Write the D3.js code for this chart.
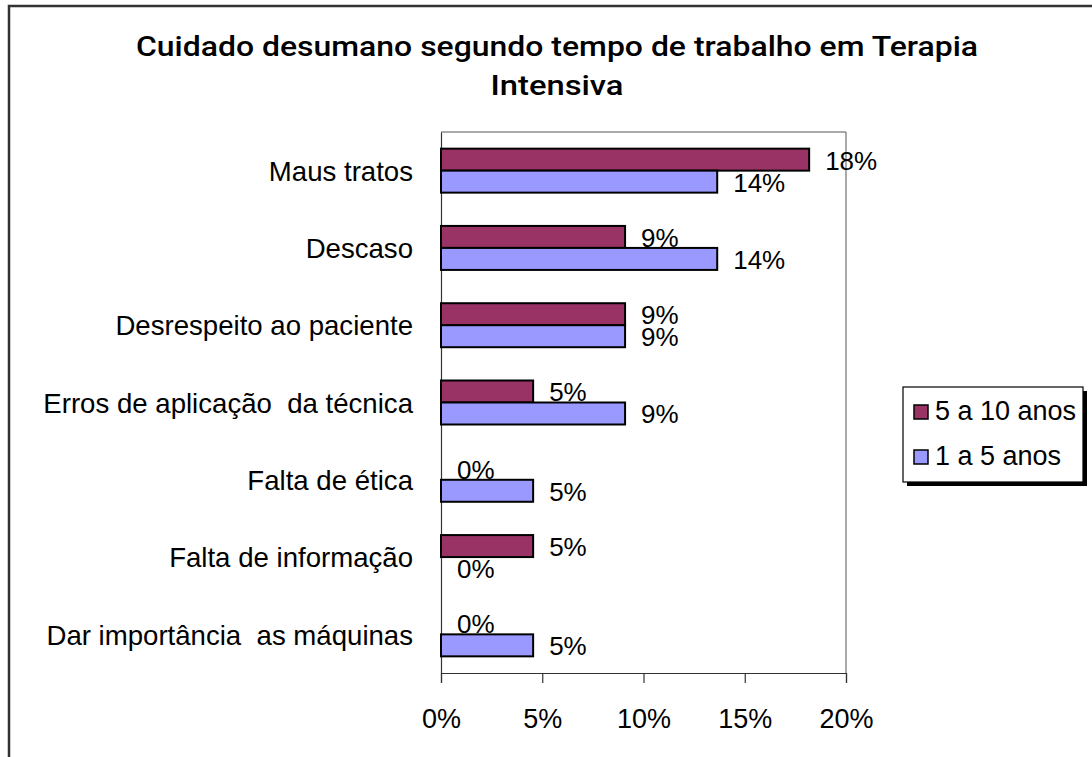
<!DOCTYPE html>
<html>
<head>
<meta charset="utf-8">
<script src="https://cdn.jsdelivr.net/npm/d3@7"></script>
<style>
  html, body { margin: 0; padding: 0; background: #fff; }
  svg { display: block; }
  text { font-family: "Liberation Sans", Arial, sans-serif; fill: #000; white-space: pre; }
</style>
</head>
<body>
<svg id="chart" width="1092" height="757"></svg>
<script>
// ---- data ----
const titleLines = ["Cuidado desumano segundo tempo de trabalho em Terapia", "Intensiva"];
const categories = [
  "Maus tratos",
  "Descaso",
  "Desrespeito ao paciente",
  "Erros de aplicação  da técnica",
  "Falta de ética",
  "Falta de informação",
  "Dar importância  as máquinas"
];
const seriesNames = ["5 a 10 anos", "1 a 5 anos"];
const values5a10 = [18.18, 9.09, 9.09, 4.55, 0, 4.55, 0];
const values1a5 = [13.64, 13.64, 9.09, 9.09, 4.55, 0, 4.55];
const xTicks = [0, 5, 10, 15, 20];
const seriesColors = ["#993366", "#9999FF"];

// ---- layout ----
const svg = d3.select("#chart");
const plot = { left: 441, right: 846, top: 132, bottom: 673 };

// outer frame (extends past the window on right/bottom)
svg.append("path")
  .attr("d", "M9,760 L9,6 L1100,6")
  .attr("fill", "none")
  .attr("stroke", "#333")
  .attr("stroke-width", 2.5);

// title
const titleWidths = [842, 133];
titleLines.forEach((t, i) => {
  svg.append("text")
    .attr("x", 557)
    .attr("y", 56 + i * 39)
    .attr("text-anchor", "middle")
    .attr("textLength", titleWidths[i])
    .attr("lengthAdjust", "spacingAndGlyphs")
    .style("font-family", "Roboto, 'Liberation Sans', Arial, sans-serif")
    .style("font-size", "27px")
    .style("font-weight", 500)
    .text(t);
});

const x = d3.scaleLinear().domain([0, 20]).range([plot.left, plot.right]);
const y = d3.scaleBand().domain(categories).range([plot.top, plot.bottom]).padding(0);
const ys = d3.scaleBand().domain(seriesNames).range([0, y.bandwidth()]).paddingInner(0).paddingOuter(0.757);

// plot border (top & right)
svg.append("path")
  .attr("d", `M${plot.left},${plot.top} L${plot.right},${plot.top} L${plot.right},${plot.bottom}`)
  .attr("fill", "none")
  .attr("stroke", "#555")
  .attr("stroke-width", 1);

// x axis
const xAxis = d3.axisBottom(x).tickValues(xTicks).tickFormat(d => d + "%").tickSize(10).tickPadding(0);
const gx = svg.append("g").attr("transform", `translate(0,${plot.bottom})`).call(xAxis);
gx.select(".domain").attr("stroke", "#333").attr("stroke-width", 1.2);
gx.selectAll(".tick line").attr("stroke", "#333").attr("stroke-width", 1.2);
gx.selectAll(".tick text")
  .attr("y", 55).attr("dy", 0)
  .style("font-size", "27px")
  .style("font-family", "'Liberation Sans', Arial, sans-serif")
  .attr("fill", "#000");

// y axis line
const yAxis = d3.axisLeft(y).tickSize(0).tickPadding(28);
const gy = svg.append("g").attr("transform", `translate(${plot.left},0)`).call(yAxis);
gy.select(".domain").attr("stroke", "#333").attr("stroke-width", 1.2);
gy.selectAll(".tick text")
  .attr("dy", "0.37em")
  .style("font-size", "27.6px")
  .style("font-family", "'Liberation Sans', Arial, sans-serif")
  .attr("fill", "#000");

// bars
const rows = categories.map((c, i) => ({
  cat: c,
  vals: [
    { s: seriesNames[0], v: values5a10[i], color: seriesColors[0] },
    { s: seriesNames[1], v: values1a5[i], color: seriesColors[1] }
  ]
}));

const fmt = d3.format(".0f");
const groups = svg.append("g").selectAll("g").data(rows).join("g")
  .attr("transform", d => `translate(0,${y(d.cat)})`);

groups.selectAll("rect").data(d => d.vals).join("rect")
  .attr("x", x(0))
  .attr("y", d => ys(d.s))
  .attr("width", d => x(d.v) - x(0))
  .attr("height", ys.bandwidth())
  .attr("fill", d => d.color)
  .attr("stroke", d => d.v > 0 ? "#000" : "none")
  .attr("stroke-width", 2);

groups.selectAll("text.val").data(d => d.vals).join("text")
  .attr("class", "val")
  .attr("x", d => x(d.v) + 16)
  .attr("y", d => ys(d.s) + ys.bandwidth() - 1)
  .style("font-size", "26px")
  .text(d => fmt(d.v) + "%");

// legend
const lg = svg.append("g");
lg.append("rect").attr("x", 907).attr("y", 391).attr("width", 180).attr("height", 95).attr("fill", "#000");
lg.append("rect").attr("x", 903).attr("y", 387).attr("width", 180).attr("height", 95)
  .attr("fill", "#fff").attr("stroke", "#000").attr("stroke-width", 1.2);
seriesNames.forEach((s, i) => {
  const yy = 405 + i * 45;
  lg.append("rect").attr("x", 914).attr("y", yy).attr("width", 14).attr("height", 14)
    .attr("fill", seriesColors[i]).attr("stroke", "#000").attr("stroke-width", 1.5);
  lg.append("text").attr("x", 935).attr("y", yy + 14.5)
    .style("font-size", "27px").text(s);
});
</script>
</body>
</html>
